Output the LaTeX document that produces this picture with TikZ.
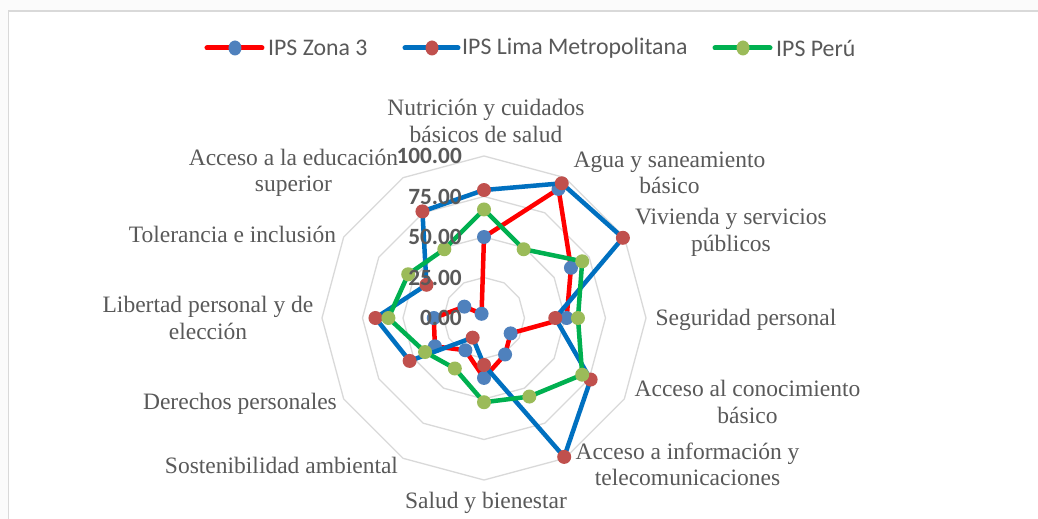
\documentclass[tikz,border=0pt]{standalone}
\usepackage{fontspec}
\setmainfont{Liberation Serif}
\newfontfamily\legendfont{Carlito}
\definecolor{txtgray}{HTML}{595959}
\definecolor{gridgray}{HTML}{D9D9D9}
\definecolor{zonaline}{HTML}{FF0000}
\definecolor{zonamark}{HTML}{4F81BD}
\definecolor{limaline}{HTML}{0070C0}
\definecolor{limamark}{HTML}{C0504D}
\definecolor{peruline}{HTML}{00B050}
\definecolor{perumark}{HTML}{9BBB59}
\tikzset{
  catlabel/.style={text=txtgray, font=\fontsize{23.5}{26.5}\selectfont, align=center, inner sep=0pt},
  axlabel/.style={text=txtgray, font=\legendfont\bfseries\fontsize{23.3}{26}\selectfont, anchor=east, inner sep=0pt},
  leglabel/.style={text=txtgray, font=\legendfont\fontsize{23.8}{26}\selectfont, anchor=west, inner sep=0pt},
  ring/.style={gridgray, line width=1.3pt, line join=round},
  serie/.style={line width=4.5pt, line join=round},
  legline/.style={line width=5pt, line cap=round},
}
\begin{document}
\begin{tikzpicture}[x=1pt,y=1pt]
  \useasboundingbox (-484,-201) rectangle (554,318);
  \fill[gray!3] (-484,-201) rectangle (554,318);
  \fill[white] (-475.5,-201) rectangle (554,307);
  \draw[gridgray, line width=1.5pt] (-475.5,-201) -- (-475.5,307) -- (554,307);
  % rings
  \foreach \v [evaluate=\v as \r using \v*1.62] in {25,50,75,100}
    \draw[ring] (90:\r) \foreach \a in {60,30,...,-240} {-- (\a:\r)} -- cycle;
  % data points
  \foreach \val [count=\i, evaluate=\i as \ang using 120-30*\i, evaluate=\val as \r using \val*1.62]
    in {50,92,62,51,19,26,37,23,35,31,14,3}
    \coordinate (z\i) at (\ang:\r);
  \foreach \val [count=\i, evaluate=\i as \ang using 120-30*\i, evaluate=\val as \r using \val*1.62]
    in {79,96,99,44,76,99,29,14,53,67,41,76}
    \coordinate (l\i) at (\ang:\r);
  \foreach \val [count=\i, evaluate=\i as \ang using 120-30*\i, evaluate=\val as \r using \val*1.62]
    in {67,49,70,58,70,56,52,36,42,59,54,49}
    \coordinate (p\i) at (\ang:\r);
  % series
  \draw[serie, zonaline] (z1) \foreach \i in {2,...,12} {-- (z\i)} -- cycle;
  \foreach \i in {1,...,12} \fill[zonamark] (z\i) circle (7);
  \draw[serie, limaline] (l1) \foreach \i in {2,...,12} {-- (l\i)} -- cycle;
  \foreach \i in {1,...,12} \fill[limamark] (l\i) circle (7);
  \draw[serie, peruline] (p1) \foreach \i in {2,...,12} {-- (p\i)} -- cycle;
  \foreach \i in {1,...,12} \fill[perumark] (p\i) circle (7);
  % axis values
  \foreach \v in {0,25,50,75,100}
    \node[axlabel] (ax\v) at (-22,\v*1.62) {\v.00};
  % categories
  \node[catlabel] (nutricion) at (2,197) {Nutrición y cuidados\\básicos de salud};
  \node[catlabel] (agua) at (185.5,145) {Agua y saneamiento\\básico};
  \node[catlabel] (vivienda) at (247,85.5) {Vivienda y servicios\\públicos};
  \node[catlabel] (seguridad) at (262,-2) {Seguridad personal};
  \node[catlabel] (conocimiento) at (263.5,-84) {Acceso al conocimiento\\básico};
  \node[catlabel] (informacion) at (203.5,-146.5) {Acceso a información y\\telecomunicaciones};
  \node[catlabel] (salud) at (2,-185) {Salud y bienestar};
  \node[catlabel] (sostenibilidad) at (-202.5,-147) {Sostenibilidad ambiental};
  \node[catlabel] (derechos) at (-244,-86) {Derechos personales};
  \node[catlabel] (libertad) at (-276,0) {Libertad personal y de\\elección};
  \node[catlabel] (tolerancia) at (-251.5,84) {Tolerancia e inclusión};
  \node[catlabel] (educacion) at (-190.5,145) {Acceso a la educación\\superior};
  % legend
  \draw[legline, zonaline] (-277,270) -- (-222,270);
  \fill[zonamark] (-249,270) ellipse (6.5 and 7.5);
  \node[leglabel] (legzona) at (-216,270) {IPS Zona 3};
  \draw[legline, limaline] (-79,270) -- (-26,270);
  \fill[limamark] (-52,270) ellipse (6.5 and 7.5);
  \node[leglabel] (leglima) at (-22,270) {IPS Lima Metropolitana};
  \draw[legline, peruline] (231,270) -- (286,270);
  \fill[perumark] (259,270) ellipse (6.5 and 7.5);
  \node[leglabel] (legperu) at (292,270) {IPS Perú};
\end{tikzpicture}
\end{document}
